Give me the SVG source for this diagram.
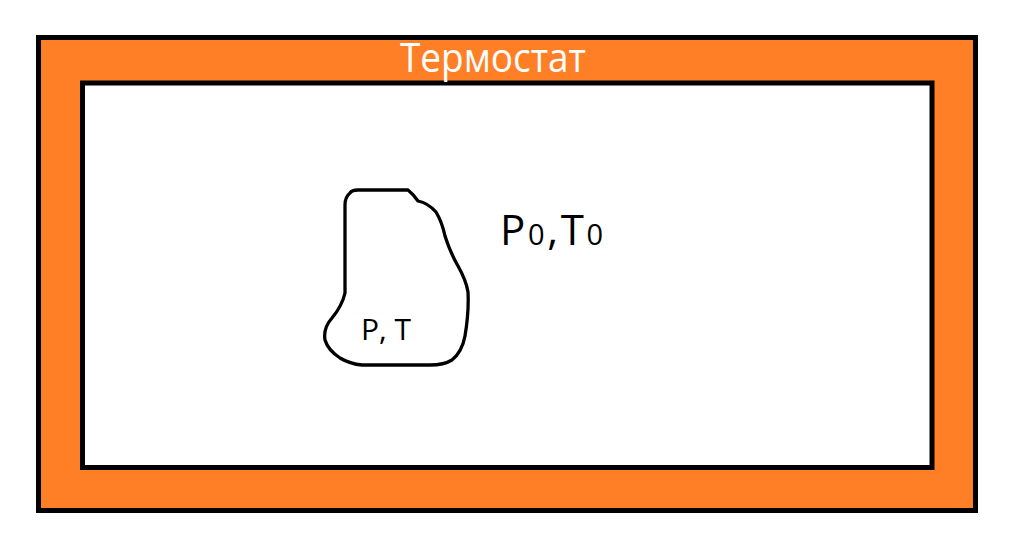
<svg xmlns="http://www.w3.org/2000/svg" width="1022" height="552" viewBox="0 0 1022 552">
<style>
.frame{stroke:#000;stroke-width:5}
.t{font-family:"Open Sans","Noto Sans",sans-serif}
</style>
<rect width="1022" height="552" fill="#fff"/>
<g id="thermostat">
<rect class="frame" x="38.5" y="37.5" width="937" height="473" fill="#FF7F27"/>
<rect class="frame" x="82.5" y="83" width="849.5" height="384.5" fill="#fff"/>
<text class="t" x="493" y="72" font-size="41" fill="#fff" text-anchor="middle" textLength="186" lengthAdjust="spacingAndGlyphs">Термостат</text>
<text class="t" x="500" y="245" font-size="42" fill="#000" textLength="103" lengthAdjust="spacing">P<tspan font-size="29">0</tspan>,T<tspan font-size="29">0</tspan></text>
</g>
<g id="body">
<path d="M345,205 Q345,197 350,193 Q352,190 358,190 L408,190 Q413,194 418,201 Q428,203 436,212 Q442,222 445,236 Q450,252 458,266 Q466,280 468,292 Q469,312 465,336 Q462,352 452,360 Q444,365 430,365 L362,365 Q350,364 340,358 Q328,350 325,340 Q323,328 332,318 Q342,306 345,293 Z" fill="none" stroke="#000" stroke-width="3.3" stroke-linejoin="round"/>
<text class="t" x="361" y="340" font-size="30" fill="#000">P, T</text>
</g>
<g id="connectors"/>
</svg>
